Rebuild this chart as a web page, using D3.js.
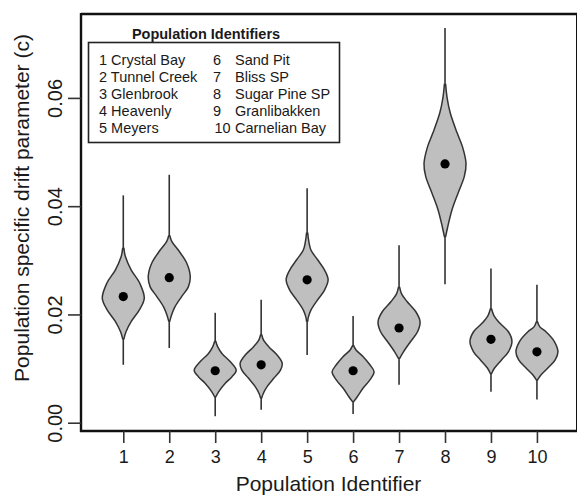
<!DOCTYPE html>
<html>
<head>
<meta charset="utf-8">
<script src="https://d3js.org/d3.v7.min.js"></script>
<style>
  body { margin: 0; background: #fff; }
  text { font-family: "Liberation Sans", Arial, sans-serif; fill: #1a1a1a; }
</style>
</head>
<body>
<div id="chart"></div>
<script>
const W = 577, H = 496;

// data
var populations = [1, 2, 3, 4, 5, 6, 7, 8, 9, 10];
var populationNames = ["Crystal Bay", "Tunnel Creek", "Glenbrook", "Heavenly", "Meyers",
                       "Sand Pit", "Bliss SP", "Sugar Pine SP", "Granlibakken", "Carnelian Bay"];
var medians  = [0.0233, 0.0268, 0.0096, 0.0107, 0.0264, 0.0096, 0.0175, 0.0478, 0.0154, 0.0131];
var tailLow  = [0.0107, 0.0138, 0.0012, 0.0024, 0.0125, 0.0016, 0.0070, 0.0256, 0.0057, 0.0043];
var tailHigh = [0.0420, 0.0458, 0.0203, 0.0227, 0.0433, 0.0197, 0.0328, 0.0729, 0.0285, 0.0255];

// violin outlines: parameter value and relative density (1 = widest)
var profileValues = [
  [0.0322, 0.0307, 0.0282, 0.0258, 0.0230, 0.0208, 0.0187, 0.0168, 0.0155],
  [0.0345, 0.0335, 0.0319, 0.0295, 0.0270, 0.0251, 0.0233, 0.0214, 0.0199, 0.0188],
  [0.0150, 0.0140, 0.0128, 0.0113, 0.0097, 0.0085, 0.0073, 0.0057, 0.0048],
  [0.0162, 0.0152, 0.0140, 0.0125, 0.0110, 0.0097, 0.0082, 0.0067, 0.0054, 0.0046],
  [0.0350, 0.0335, 0.0319, 0.0301, 0.0282, 0.0264, 0.0245, 0.0227, 0.0208, 0.0195, 0.0188],
  [0.0142, 0.0134, 0.0122, 0.0107, 0.0094, 0.0079, 0.0064, 0.0048, 0.0039],
  [0.0250, 0.0238, 0.0224, 0.0205, 0.0187, 0.0168, 0.0150, 0.0131, 0.0119],
  [0.0625, 0.0600, 0.0572, 0.0535, 0.0510, 0.0479, 0.0455, 0.0424, 0.0393, 0.0362, 0.0344],
  [0.0210, 0.0198, 0.0184, 0.0168, 0.0150, 0.0131, 0.0116, 0.0101, 0.0091],
  [0.0186, 0.0177, 0.0168, 0.0150, 0.0131, 0.0116, 0.0101, 0.0088, 0.0079]
];
var profileDensity = [
  [0.03, 0.10, 0.38, 0.78, 1.00, 0.76, 0.38, 0.13, 0.03],
  [0.03, 0.12, 0.43, 0.83, 1.00, 0.91, 0.59, 0.27, 0.11, 0.03],
  [0.03, 0.12, 0.32, 0.71, 1.00, 0.80, 0.48, 0.16, 0.03],
  [0.03, 0.12, 0.37, 0.76, 1.00, 0.92, 0.60, 0.29, 0.10, 0.03],
  [0.03, 0.08, 0.18, 0.50, 0.83, 1.00, 0.83, 0.50, 0.18, 0.06, 0.03],
  [0.03, 0.15, 0.48, 0.80, 1.00, 0.80, 0.48, 0.20, 0.03],
  [0.03, 0.12, 0.38, 0.80, 1.00, 0.88, 0.55, 0.21, 0.03],
  [0.03, 0.10, 0.25, 0.58, 0.83, 1.00, 0.92, 0.62, 0.33, 0.13, 0.03],
  [0.03, 0.14, 0.42, 0.83, 1.00, 0.83, 0.50, 0.17, 0.03],
  [0.03, 0.14, 0.43, 0.83, 1.00, 0.87, 0.52, 0.19, 0.03]
];
var yTicks = [0, 0.02, 0.04, 0.06];

var cfg = {
    left: 81, right: 576, top: 14, bottom: 431,
    xDomain: [0.08, 10.85],
    yDomain: [-0.00153, 0.0755],
    halfWidth: 21,
    fill: "#bfbfbf",
    stroke: "#333333"
};

var svg = d3.select("#chart").append("svg")
    .attr("width", W)
    .attr("height", H);

var x = d3.scaleLinear().domain(cfg.xDomain).range([cfg.left, cfg.right]);
var y = d3.scaleLinear().domain(cfg.yDomain).range([cfg.bottom, cfg.top]);
var w = d3.scaleLinear().domain([0, 1]).range([0, cfg.halfWidth]);

// violins
populations.forEach(function(p, i) {
    var cx = x(p);
    var pts = profileValues[i].map(function(v, k) { return {v: v, d: profileDensity[i][k]}; });

    svg.append("line")
        .attr("x1", cx).attr("x2", cx)
        .attr("y1", y(tailLow[i])).attr("y2", y(tailHigh[i]))
        .style("stroke", cfg.stroke)
        .style("stroke-width", "1.6px");

    var area = d3.area()
        .y(function(d) { return y(d.v); })
        .x0(function(d) { return cx - w(d.d); })
        .x1(function(d) { return cx + w(d.d); })
        .curve(d3.curveCatmullRom);

    svg.append("path")
        .datum(pts)
        .attr("d", area)
        .style("fill", cfg.fill)
        .style("stroke", cfg.stroke)
        .style("stroke-width", "1.5px");

    svg.append("circle")
        .attr("cx", cx)
        .attr("cy", y(medians[i]))
        .attr("r", 4.6)
        .style("fill", "#000");
});

// frame
var frame = svg.append("g").style("stroke", "#111");
frame.append("line").attr("x1", cfg.left).attr("x2", W).attr("y1", cfg.top).attr("y2", cfg.top).style("stroke-width", "2.4px");
frame.append("line").attr("x1", cfg.left - 1).attr("x2", W).attr("y1", cfg.bottom).attr("y2", cfg.bottom).style("stroke-width", "2.4px");
frame.append("line").attr("x1", cfg.left).attr("x2", cfg.left).attr("y1", cfg.top - 1).attr("y2", cfg.bottom + 1).style("stroke-width", "2.4px");
frame.append("line").attr("x1", cfg.right + 0.5).attr("x2", cfg.right + 0.5).attr("y1", cfg.top).attr("y2", cfg.bottom).style("stroke-width", "1px");

// x axis
var xAxis = svg.append("g")
    .attr("transform", "translate(0," + cfg.bottom + ")")
    .call(d3.axisBottom(x).tickValues(populations).tickSize(12).tickFormat(d3.format("d")));
xAxis.select(".domain").remove();
xAxis.selectAll(".tick line").style("stroke", "#333").style("stroke-width", "1.6px");
xAxis.selectAll(".tick text")
    .attr("y", 32).attr("dy", 0)
    .style("font-size", "18px")
    .style("fill", "#1a1a1a");

// y axis
var yAxis = svg.append("g")
    .attr("transform", "translate(" + cfg.left + ",0)")
    .call(d3.axisLeft(y).tickValues(yTicks).tickSize(13).tickFormat(d3.format(".2f")));
yAxis.select(".domain").remove();
yAxis.selectAll(".tick line").style("stroke", "#333").style("stroke-width", "1.6px");
yAxis.selectAll(".tick text")
    .attr("x", 0).attr("y", -19).attr("dy", 0)
    .attr("transform", "rotate(-90)")
    .attr("text-anchor", "middle")
    .style("font-size", "20px")
    .style("fill", "#1a1a1a");

// axis titles
svg.append("text")
    .attr("x", (cfg.left + cfg.right) / 2)
    .attr("y", 491)
    .attr("text-anchor", "middle")
    .style("font-size", "21px")
    .text("Population Identifier");

svg.append("text")
    .attr("transform", "translate(29,208) rotate(-90)")
    .attr("text-anchor", "middle")
    .style("font-size", "21px")
    .text("Population specific drift parameter (c)");

// legend
var legend = svg.append("g");
legend.append("text")
    .attr("x", 206)
    .attr("y", 39)
    .attr("text-anchor", "middle")
    .style("font-size", "14.5px")
    .style("font-weight", "bold")
    .text("Population Identifiers");

legend.append("rect")
    .attr("x", 88.5).attr("y", 42.5)
    .attr("width", 251).attr("height", 100)
    .style("fill", "none")
    .style("stroke", "#222")
    .style("stroke-width", "1.6px");

populations.forEach(function(p, i) {
    var row = i % 5, col = Math.floor(i / 5);
    var by = 65 + row * 17;
    if (col === 0) {
        legend.append("text")
            .attr("x", 99).attr("y", by)
            .style("font-size", "14.5px")
            .text(p + " " + populationNames[i]);
    } else {
        legend.append("text")
            .attr("x", p === 10 ? 214.5 : 213).attr("y", by)
            .style("font-size", "14.5px")
            .text(p);
        legend.append("text")
            .attr("x", 235).attr("y", by)
            .style("font-size", "14.5px")
            .text(populationNames[i]);
    }
});
</script>
</body>
</html>
